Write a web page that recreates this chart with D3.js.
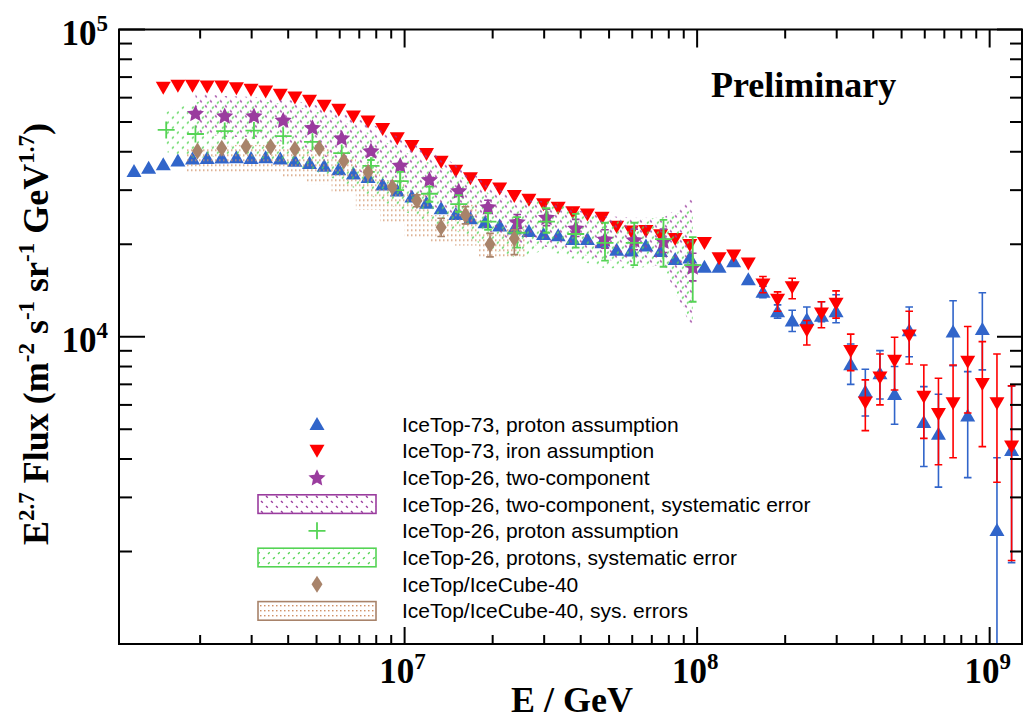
<!DOCTYPE html>
<html>
<head>
<meta charset="utf-8">
<script src="https://cdn.jsdelivr.net/npm/d3@7"></script>
<style>
  body { margin: 0; background: #fff; }
  svg { display: block; }
</style>
</head>
<body>
<div id="chart"></div>
<script>
// ---------- data (E in log10(E/GeV), flux in m^-2 s^-1 sr^-1 GeV^1.7) ----------

// IceTop-73 bins
const it73LogE = [6.075, 6.125, 6.175, 6.225, 6.275, 6.325, 6.375, 6.425, 6.475, 6.525,
                  6.575, 6.625, 6.675, 6.725, 6.775, 6.825, 6.875, 6.925, 6.975, 7.025,
                  7.075, 7.125, 7.175, 7.225, 7.275, 7.325, 7.375, 7.425, 7.475, 7.525,
                  7.575, 7.625, 7.675, 7.725, 7.775, 7.825, 7.875, 7.925, 7.975, 8.025,
                  8.075, 8.125, 8.175, 8.225, 8.275, 8.325, 8.375, 8.425, 8.475, 8.525,
                  8.575, 8.625, 8.675, 8.725, 8.775, 8.825, 8.875, 8.925, 8.975, 9.025, 9.075];
const it73Proton = [3.46e4, 3.55e4, 3.64e4, 3.75e4, 3.80e4, 3.82e4, 3.83e4, 3.84e4, 3.82e4, 3.84e4,
                    3.80e4, 3.74e4, 3.68e4, 3.60e4, 3.51e4, 3.40e4, 3.31e4, 3.13e4, 2.99e4, 2.86e4,
                    2.73e4, 2.62e4, 2.51e4, 2.43e4, 2.36e4, 2.30e4, 2.25e4, 2.21e4, 2.16e4, 2.14e4,
                    2.08e4, 2.08e4, 2.03e4, 1.92e4, 1.91e4, 1.98e4, 1.90e4, 1.79e4, 1.81e4, 1.69e4,
                    1.69e4, 1.76e4, 1.54e4, 1.40e4, 1.21e4, 1.13e4, 1.14e4, 1.17e4, 1.21e4, 8.14e3,
                    6.63e3, 7.61e3, 6.51e3, 1.05e4, 5.28e3, 4.83e3, 1.04e4, 5.54e3, 1.06e4, 2.35e3, 4.28e3];
const it73Iron = [null, null, 6.46e4, 6.56e4, 6.56e4, 6.52e4, 6.52e4, 6.44e4, 6.37e4, 6.28e4,
                  6.13e4, 6.01e4, 5.86e4, 5.65e4, 5.48e4, 5.21e4, 5.02e4, 4.74e4, 4.43e4, 4.18e4,
                  3.93e4, 3.71e4, 3.47e4, 3.28e4, 3.12e4, 3.04e4, 2.87e4, 2.79e4, 2.70e4, 2.63e4,
                  2.54e4, 2.50e4, 2.44e4, 2.28e4, 2.20e4, 2.21e4, 2.14e4, 2.08e4, 1.99e4, 2.02e4,
                  1.80e4, 1.84e4, 1.73e4, 1.48e4, 1.32e4, 1.45e4, 1.05e4, 1.19e4, 1.28e4, 8.99e3,
                  6.11e3, 7.37e3, 8.35e3, 1.01e4, 6.38e3, 5.61e3, 6.07e3, 8.29e3, 7.02e3, 6.07e3, 4.39e3];
// [log10 E, lower, upper]
const it73ProtonErr = [[8.225, 1.34e4, 1.46e4], [8.275, 1.15e4, 1.27e4], [8.325, 1.04e4, 1.22e4],
                       [8.375, 1.08e4, 1.25e4], [8.425, 1.12e4, 1.30e4], [8.475, 1.11e4, 1.37e4],
                       [8.525, 7.00e3, 9.47e3], [8.575, 5.52e3, 7.84e3], [8.625, 6.27e3, 9.01e3],
                       [8.675, 5.19e3, 8.00e3], [8.725, 8.61e3, 1.25e4], [8.775, 3.78e3, 6.88e3],
                       [8.825, 3.24e3, 6.50e3], [8.875, 8.05e3, 1.31e4], [8.925, 3.48e3, 7.70e3],
                       [8.975, 7.80e3, 1.39e4], [9.025, 5.00e2, 4.04e3], [9.075, 1.84e3, 6.92e3]];
const it73IronErr = [[8.225, 1.39e4, 1.57e4], [8.275, 1.21e4, 1.40e4], [8.325, 1.33e4, 1.55e4],
                     [8.375, 9.40e3, 1.13e4], [8.425, 1.07e4, 1.30e4], [8.475, 1.15e4, 1.41e4],
                     [8.525, 7.76e3, 1.02e4], [8.575, 4.95e3, 7.24e3], [8.625, 6.00e3, 8.79e3],
                     [8.675, 6.71e3, 9.96e3], [8.725, 8.15e3, 1.21e4], [8.775, 4.67e3, 8.09e3],
                     [8.825, 3.83e3, 7.33e3], [8.875, 4.04e3, 8.09e3], [8.925, 5.65e3, 1.08e4],
                     [8.975, 4.39e3, 9.64e3], [9.025, 3.36e3, 8.79e3], [9.075, 1.87e3, 6.92e3]];

// IceTop-26 bins
const it26LogE = [6.185, 6.285, 6.385, 6.485, 6.585, 6.685, 6.785, 6.885, 6.985, 7.085,
                  7.185, 7.285, 7.385, 7.485, 7.585, 7.685, 7.785, 7.885, 7.985];
const it26TwoComp = [null, 5.34e4, 5.24e4, 5.24e4, 5.08e4, 4.80e4, 4.44e4, 4.03e4, 3.62e4, 3.25e4,
                     2.99e4, 2.65e4, 2.37e4, 2.45e4, 2.26e4, 2.08e4, 2.07e4, 2.05e4, 1.69e4];
const it26TwoCompSysHi = [null, 6.21e4, 6.08e4, 6.03e4, 5.94e4, 5.72e4, 5.35e4, 4.93e4, 4.44e4, 4.02e4,
                          3.60e4, 3.19e4, 2.83e4, 2.75e4, 2.59e4, 2.47e4, 2.44e4, 2.44e4, 2.83e4];
const it26TwoCompSysLo = [null, 4.61e4, 4.47e4, 4.47e4, 4.31e4, 3.99e4, 3.68e4, 3.31e4, 2.96e4, 2.67e4,
                          2.47e4, 2.21e4, 2.03e4, 1.96e4, 1.87e4, 1.78e4, 1.74e4, 1.69e4, 1.05e4];
const it26TwoCompErr = [[7.285, 2.52e4, 2.78e4], [7.385, 2.25e4, 2.50e4], [7.485, 2.30e4, 2.60e4],
                        [7.585, 2.12e4, 2.41e4], [7.685, 1.94e4, 2.23e4], [7.785, 1.92e4, 2.24e4],
                        [7.885, 1.88e4, 2.24e4], [7.985, 1.52e4, 1.87e4]];
const it26Proton = [4.71e4, 4.57e4, 4.67e4, 4.69e4, 4.50e4, 4.31e4, 3.96e4, 3.60e4, 3.21e4, 2.92e4,
                    2.70e4, 2.37e4, 2.18e4, 2.37e4, 2.16e4, 2.02e4, 2.02e4, 2.08e4, 1.71e4];
const it26ProtonSysHi = [5.39e4, 5.81e4, 5.90e4, 5.90e4, 5.72e4, 5.47e4, 5.04e4, 4.57e4, 4.05e4, 3.68e4,
                         3.36e4, 2.94e4, 2.69e4, 2.79e4, 2.59e4, 2.40e4, 2.40e4, 2.45e4, 2.59e4];
const it26ProtonSysLo = [3.99e4, 3.82e4, 3.88e4, 3.85e4, 3.68e4, 3.49e4, 3.19e4, 2.87e4, 2.59e4, 2.36e4,
                         2.19e4, 1.95e4, 1.80e4, 1.92e4, 1.78e4, 1.67e4, 1.67e4, 1.71e4, 1.09e4];
const it26ProtonErr = [[6.885, 3.44e4, 3.76e4], [6.985, 3.00e4, 3.44e4], [7.085, 2.75e4, 3.08e4],
                       [7.185, 2.55e4, 2.89e4], [7.285, 2.23e4, 2.53e4], [7.385, 1.95e4, 2.45e4],
                       [7.485, 2.18e4, 2.62e4], [7.585, 1.95e4, 2.51e4], [7.685, 1.77e4, 2.35e4],
                       [7.785, 1.71e4, 2.35e4], [7.885, 1.69e4, 2.40e4], [7.985, 1.30e4, 2.11e4]];

// IceTop/IceCube-40 bins
const ic40LogE = [6.292, 6.375, 6.458, 6.542, 6.625, 6.708, 6.792, 6.875, 6.958, 7.042, 7.125, 7.208, 7.292, 7.375];
const ic40BinHalfWidth = 0.0417;
const ic40Flux = [4.02e4, 4.11e4, 4.16e4, 4.15e4, 4.08e4, 4.11e4, 3.73e4, 3.43e4, 3.07e4, 2.77e4,
                  2.27e4, 2.49e4, 2.00e4, 2.09e4];
const ic40SysHi = [4.12e4, 4.18e4, 4.21e4, 4.21e4, 4.15e4, 4.15e4, 3.82e4, 3.60e4, 3.24e4, 2.96e4,
                   2.49e4, 2.69e4, 2.19e4, 2.26e4];
const ic40SysLo = [3.44e4, 3.44e4, 3.44e4, 3.41e4, 3.29e4, 3.14e4, 2.94e4, 2.59e4, 2.36e4, 2.11e4,
                   2.03e4, 1.98e4, 1.82e4, 1.82e4];
const ic40Err = [[7.042, 2.65e4, 2.90e4], [7.125, 2.12e4, 2.43e4], [7.208, 2.33e4, 2.65e4],
                 [7.292, 1.82e4, 2.17e4], [7.375, 1.85e4, 2.23e4]];

const legendLabels = ["IceTop-73, proton assumption", "IceTop-73, iron assumption",
                      "IceTop-26, two-component", "IceTop-26, two-component, systematic error",
                      "IceTop-26, proton assumption", "IceTop-26, protons, systematic error",
                      "IceTop/IceCube-40", "IceTop/IceCube-40, sys. errors"];

// ---------- layout ----------
const W = 1023, H = 719;
const margin = {top: 29.5, right: 1, bottom: 75, left: 119},
      width = W - margin.left - margin.right,
      height = H - margin.top - margin.bottom;

const col = {blue: "#3165ca", red: "#ff0000", purple: "#9a3c9e", green: "#55d455", brown: "#a8836a"};
const serif = "'Liberation Serif', 'Times New Roman', serif";
const sans = "'Liberation Sans', Arial, Helvetica, sans-serif";

const svg = d3.select("#chart").append("svg")
    .attr("width", W).attr("height", H)
    .style("background", "#fff");

const defs = svg.append("defs");
defs.append("clipPath").attr("id", "plotclip")
  .append("rect").attr("width", width).attr("height", height);

// hatch patterns for the systematic bands
const pPurple = defs.append("pattern").attr("id", "hatchPurple")
  .attr("patternUnits", "userSpaceOnUse").attr("width", 10).attr("height", 10);
pPurple.append("path").attr("d", "M1,1L2.8,2.8M6,6L7.8,7.8")
  .attr("stroke", col.purple).attr("stroke-width", 1.4);
const pGreen = defs.append("pattern").attr("id", "hatchGreen")
  .attr("patternUnits", "userSpaceOnUse").attr("width", 10).attr("height", 10);
pGreen.append("path").attr("d", "M3,9L4.8,7.2M8,4L9.8,2.2")
  .attr("stroke", col.green).attr("stroke-width", 1.4);
const pBrown = defs.append("pattern").attr("id", "dotsBrown")
  .attr("patternUnits", "userSpaceOnUse").attr("width", 4).attr("height", 5);
pBrown.append("rect").attr("width", 1.5).attr("height", 1.4).attr("fill", "#cf9066");

const g = svg.append("g").attr("transform", `translate(${margin.left},${margin.top})`);

const x = d3.scaleLog().domain([1.056e6, 1.29e9]).range([0, width]);
const y = d3.scaleLog().domain([1e3, 1e5]).range([height, 0]);
const E = le => Math.pow(10, le);
const isMajor = v => Math.abs(Math.log10(v) - Math.round(Math.log10(v))) < 1e-6;

// ---------- marker shapes ----------
const triUp = "M0,-7L7.5,6L-7.5,6Z";
const triDown = "M-7.5,-6L7.5,-6L0,7Z";
const diamond = "M0,-8.5L5.5,0L0,8.5L-5.5,0Z";
const plus = "M-8.5,0H8.5M0,-8.5V8.5";
// fat five-pointed star, like the ROOT marker
const star = d3.range(10).map(k => {
  const r = k % 2 ? 4.3 : 9, a = -Math.PI / 2 + k * Math.PI / 5;
  return (k ? "L" : "M") + (r * Math.cos(a)).toFixed(2) + "," + (r * Math.sin(a) + 0.8).toFixed(2);
}).join("") + "Z";

const plot = g.append("g").attr("clip-path", "url(#plotclip)");

function points(logE, vals) {
  return logE.map((e, i) => ({e, v: vals[i]})).filter(d => d.v != null);
}

function errBars(layer, rows, color, w) {
  layer.append("g").selectAll("path").data(rows).join("path")
    .attr("d", d => {
      const cx = x(E(d[0])), y1 = y(d[1]), y2 = y(d[2]);
      return `M${cx},${y1}V${y2}M${cx - 3.8},${y1}H${cx + 3.8}M${cx - 3.8},${y2}H${cx + 3.8}`;
    })
    .attr("fill", "none").attr("stroke", color).attr("stroke-width", w || 1.6);
}

function markers(layer, rows, shape, fill, stroke) {
  layer.append("g").selectAll("path").data(rows).join("path")
    .attr("transform", d => `translate(${x(E(d.e))},${y(d.v)})`)
    .attr("d", shape)
    .attr("fill", stroke ? "none" : fill)
    .attr("stroke", stroke ? fill : "none")
    .attr("stroke-width", stroke ? 1.8 : 0);
}

// IceTop-73
errBars(plot, it73ProtonErr, col.blue);
markers(plot, points(it73LogE, it73Proton), triUp, col.blue);
errBars(plot, it73IronErr, col.red);
markers(plot, points(it73LogE, it73Iron), triDown, col.red);

// systematic bands
const bandArea = d3.area().x(d => x(E(d.e))).y0(d => y(d.lo)).y1(d => y(d.hi));
const purpleBand = it26LogE.map((e, i) => ({e, lo: it26TwoCompSysLo[i], hi: it26TwoCompSysHi[i]}))
  .filter(d => d.lo != null);
plot.append("path").datum(purpleBand).attr("d", bandArea).attr("fill", "url(#hatchPurple)");
const greenBand = it26LogE.map((e, i) => ({e, lo: it26ProtonSysLo[i], hi: it26ProtonSysHi[i]}));
plot.append("path").datum(greenBand).attr("d", bandArea).attr("fill", "url(#hatchGreen)");
plot.append("g").selectAll("rect").data(ic40LogE).join("rect")
  .attr("x", e => x(E(e - ic40BinHalfWidth)))
  .attr("width", e => x(E(e + ic40BinHalfWidth)) - x(E(e - ic40BinHalfWidth)))
  .attr("y", (e, i) => y(ic40SysHi[i]))
  .attr("height", (e, i) => y(ic40SysLo[i]) - y(ic40SysHi[i]))
  .attr("fill", "url(#dotsBrown)");

// IceTop-26
errBars(plot, it26TwoCompErr, col.purple);
markers(plot, points(it26LogE, it26TwoComp), star, col.purple);
errBars(plot, it26ProtonErr, col.green, 1.8);
markers(plot, points(it26LogE, it26Proton), plus, col.green, true);

// IceTop/IceCube-40
errBars(plot, ic40Err, col.brown);
markers(plot, points(ic40LogE, ic40Flux), diamond, col.brown);

// ---------- frame and ticks ----------
g.append("rect").attr("width", width).attr("height", height)
  .attr("fill", "none").attr("stroke", "#000").attr("stroke-width", 2);

const ticks = g.append("g").attr("stroke", "#000").attr("stroke-width", 2);
x.ticks().forEach(t => {
  const px = x(t), m = isMajor(t);
  ticks.append("line").attr("x1", px).attr("x2", px).attr("y1", height).attr("y2", height - (m ? 17 : 9));
  ticks.append("line").attr("x1", px).attr("x2", px).attr("y1", 0).attr("y2", m ? 18 : 9);
});
y.ticks().forEach(t => {
  const py = y(t), m = isMajor(t);
  ticks.append("line").attr("y1", py).attr("y2", py).attr("x1", 0).attr("x2", m ? 26 : 13);
  ticks.append("line").attr("y1", py).attr("y2", py).attr("x1", width).attr("x2", width - (m ? 25 : 12));
});

function powerLabel(sel, exp) {
  sel.append("tspan").text("10");
  sel.append("tspan").attr("dy", -14).attr("font-size", 23).text(exp);
}
x.ticks().filter(t => isMajor(t) && t > 1.1e6).forEach(t => {
  g.append("text").attr("x", x(t) - 2).attr("y", height + 39)
    .attr("text-anchor", "middle").attr("font-family", serif).attr("font-weight", "bold")
    .attr("font-size", 35).call(powerLabel, Math.round(Math.log10(t)));
});
y.ticks().filter(t => isMajor(t) && t > 1e3).forEach(t => {
  g.append("text").attr("x", -11).attr("y", y(t) + 15.5)
    .attr("text-anchor", "end").attr("font-family", serif).attr("font-weight", "bold")
    .attr("font-size", 35).call(powerLabel, Math.round(Math.log10(t)));
});

// axis titles
g.append("text").attr("x", 392).attr("y", height + 68)
  .attr("font-family", serif).attr("font-weight", "bold").attr("font-size", 36)
  .text("E / GeV");

const yTitle = g.append("text")
  .attr("transform", `translate(${48 - margin.left},${334 - margin.top}) rotate(-90)`)
  .attr("text-anchor", "middle").attr("font-family", serif).attr("font-weight", "bold")
  .attr("font-size", 36);
[["E", 0], ["2.7", 1], [" Flux (m", 0], ["-2", 1], [" s", 0], ["-1", 1], [" sr", 0], ["-1", 1],
 [" GeV", 0], ["1.7", 1], [")", 0]].forEach(([s, sup], i, arr) => {
  const prevSup = i > 0 && arr[i - 1][1];
  yTitle.append("tspan")
    .attr("dy", sup ? -14 : (prevSup ? 14 : 0))
    .attr("font-size", sup ? 23 : 36)
    .text(s);
});

g.append("text").attr("x", 592).attr("y", 67.5)
  .attr("font-family", serif).attr("font-weight", "bold").attr("font-size", 36)
  .text("Preliminary");

// ---------- legend ----------
const legend = svg.append("g");
const legendX = 317, legendTop = 424, legendStep = 26.7;
const legendKeys = [
  {shape: triUp, color: col.blue}, {shape: triDown, color: col.red},
  {shape: star, color: col.purple}, {box: "url(#hatchPurple)", color: col.purple},
  {shape: plus, color: col.green, stroke: true}, {box: "url(#hatchGreen)", color: col.green},
  {shape: diamond, color: col.brown}, {box: "url(#dotsBrown)", color: col.brown}
];
legendKeys.forEach((k, i) => {
  const cy = legendTop + i * legendStep;
  if (k.box) {
    legend.append("rect").attr("x", legendX - 59).attr("y", cy - 9.3)
      .attr("width", 118).attr("height", 18.6)
      .attr("fill", k.box).attr("stroke", k.color).attr("stroke-width", 1.6);
  } else {
    legend.append("path").attr("transform", `translate(${legendX},${cy})`).attr("d", k.shape)
      .attr("fill", k.stroke ? "none" : k.color)
      .attr("stroke", k.stroke ? k.color : "none").attr("stroke-width", 1.8);
  }
  legend.append("text").attr("x", 402).attr("y", cy + 7.5)
    .attr("font-family", sans).attr("font-size", 21).attr("fill", "#000")
    .text(legendLabels[i]);
});
</script>
</body>
</html>
